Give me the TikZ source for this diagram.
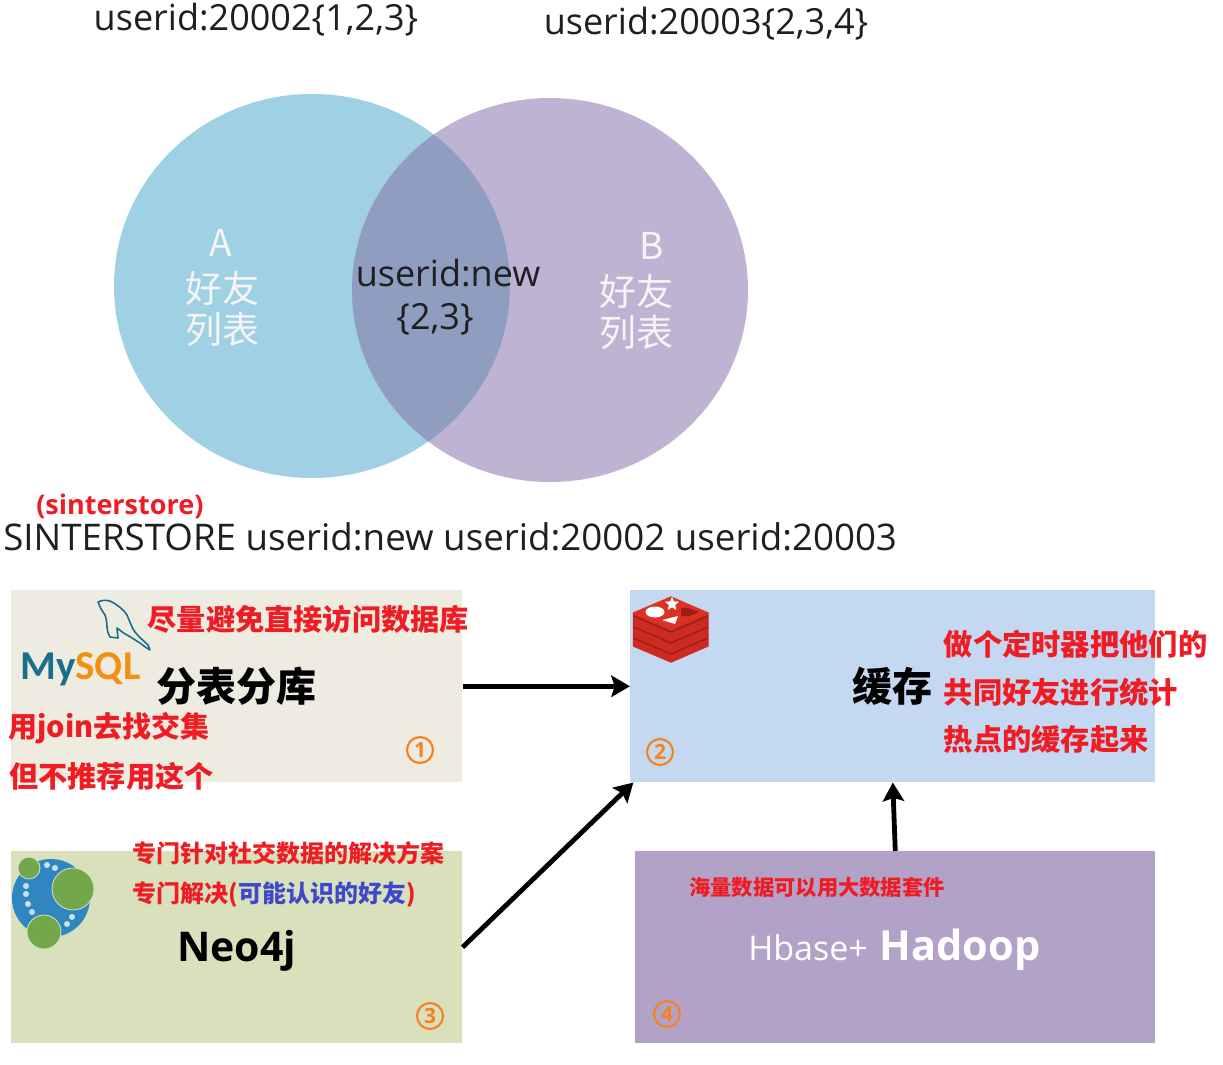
\documentclass[tikz,border=0pt]{standalone}
\usepackage{fontspec}
\setmainfont{Open Sans}
\newfontfamily\cjk{Noto Sans CJK SC}
\newfontfamily\logofont{Carlito}
\usetikzlibrary{arrows.meta,shapes.geometric}
\definecolor{redt}{HTML}{F01C24}
\definecolor{bluet}{HTML}{3F48CC}
\definecolor{orangen}{HTML}{F58220}
\definecolor{circA}{HTML}{A0D0E3}
\definecolor{circB}{HTML}{BFB3D3}
\definecolor{circAB}{HTML}{8F9DC0}
\definecolor{sqlteal}{HTML}{1B6E8C}
\definecolor{sqlorange}{HTML}{F29111}
\definecolor{neoblue}{HTML}{2F86C1}
\definecolor{neogreen}{HTML}{74A64C}
\definecolor{redisTop}{HTML}{DC3226}
\definecolor{redisSide}{HTML}{CB2B20}
\definecolor{redisGap}{HTML}{9E1C12}
\newcommand{\px}[1]{\fontsize{\fpeval{#1*0.75}pt}{\fpeval{#1*0.9}pt}\selectfont}
\tikzset{
  x=0.75pt,y=-0.75pt,
  panel/.style={rectangle,inner sep=0pt,anchor=north west},
  lab/.style={inner sep=0pt,anchor=west},
  redlab/.style={lab,text=redt,font=\cjk\bfseries},
  venntext/.style={inner sep=0pt,text=white!96!black,font=\cjk\px{37}},
  num/.style={circle,draw=orangen,line width=1.6pt,minimum size=19.5pt,inner sep=0pt,text=orangen,font=\bfseries\px{21}},
  conn/.style={line width=3.6pt,black,-{Stealth[length=14pt,width=16pt,inset=2.5pt]}},
  dot/.style={fill=white!75!neoblue,draw=none},
  ngreen/.style={fill=neogreen,draw=white!70!neogreen,line width=0.6pt},
}
\begin{document}
\begin{tikzpicture}
\useasboundingbox (0,0) rectangle (1223,1064);
\fill[white] (0,0) rectangle (1223,1064);
% Venn
\fill[circA] (312,286) ellipse [x radius=198,y radius=192];
\fill[circB] (550,290) ellipse [x radius=198,y radius=192];
\begin{scope}
\clip (312,286) ellipse [x radius=198,y radius=192];
\fill[circAB] (550,290) ellipse [x radius=198,y radius=192];
\end{scope}
\node[lab,anchor=center,text=black!88] (t1) at (256,20) {\px{36}userid:20002\{1,2,3\}};
\node[lab,anchor=center,text=black!88] (t2) at (706,24) {\px{36}userid:20003\{2,3,4\}};
\node[venntext] (a1) at (221,243) {A};
\node[venntext] (a2) at (222,288) {好友};
\node[venntext] (a3) at (222,330) {列表};
\node[venntext] (b1) at (652,246) {B};
\node[venntext] (b2) at (636,291) {好友};
\node[venntext] (b3) at (636,333) {列表};
\node[lab,anchor=center,text=black!88] (n1) at (448,273) {\px{36}userid:new};
\node[lab,anchor=center,text=black!88] (n2) at (435,319) {\px{36}\{2,3\}};
\node[redlab,font=\bfseries\px{27}] (s1) at (36,506) {(sinterstore)};
\node[lab,text=black!88] (s2) at (3,537) {\px{36.7}SINTERSTORE userid:new userid:20002 userid:20003};
% Panels
\node[panel,minimum width=338.25pt,minimum height=144pt,fill={rgb,255:red,238;green,235;blue,225}] (box1) at (11,590) {};
\node[panel,minimum width=393.75pt,minimum height=144pt,fill={rgb,255:red,196;green,217;blue,241}] (box2) at (630,590) {};
\node[panel,minimum width=338.25pt,minimum height=144pt,fill={rgb,255:red,216;green,225;blue,188}] (box3) at (11,851) {};
\node[panel,minimum width=390pt,minimum height=144pt,fill={rgb,255:red,178;green,162;blue,199}] (box4) at (635,851) {};
% Connectors
\draw[conn] (box1.east) -- (box2.west);
\draw[conn] (box3.east) -- ([xshift=2.5pt]box2.south west);
\draw[conn] (box4.north) -- (box2.south);
% MySQL
\draw[sqlteal,line width=1.2pt,line join=round,fill=none]
  (98,602) .. controls (102,600) and (106,600) .. (110,601)
  .. controls (118,605) and (124,610) .. (127,615)
  .. controls (130,622) and (132,628) .. (135,632)
  .. controls (140,638) and (144,641) .. (148,645) -- (150,650)
  .. controls (146,648) and (143,645) .. (140,643)
  .. controls (135,640) and (131,637) .. (127,635)
  .. controls (123,633) and (120,630) .. (117,628) -- (118,638) -- (110,637)
  .. controls (108,633) and (107,630) .. (107,627)
  .. controls (107,622) and (106,618) .. (105,615)
  .. controls (102,611) and (100,607) .. (98,602) -- cycle;
\node[inner sep=0pt,anchor=base west] (mysql) at (20,679) {\logofont\bfseries\px{41}\textcolor{sqlteal}{My}\textcolor{sqlorange}{SQL}};
\node[redlab,font=\cjk\bfseries\px{29.2}] (l1) at (147.5,619) {尽量避免直接访问数据库};
\node[lab,font=\cjk\bfseries\px{40}] (l2) at (156,686) {分表分库};
\node[redlab,font=\cjk\bfseries\px{29}] (l3) at (8,728) {用join去找交集};
\node[redlab,font=\cjk\bfseries\px{29.2}] (l4) at (9,776) {但不推荐用这个};
\node[num] (c1) at (420,750) {1};
% Redis
\foreach \dy in {22,11,0}{
  \filldraw[redisSide,line width=1pt,line join=round] (633.5,{613+\dy}) -- (671,{629+\dy}) -- (708,{613+\dy}) -- (708,{624+\dy}) -- (671,{640+\dy}) -- (633.5,{624+\dy}) -- cycle;
  \draw[redisGap,line width=1pt] (633.5,{616+\dy}) -- (671,{632+\dy}) -- (708,{616+\dy});
  \filldraw[redisTop,line width=1pt,line join=round] (633.5,{613+\dy}) -- (671,{597+\dy}) -- (708,{613+\dy}) -- (671,{629+\dy}) -- cycle;
}
\fill[white] (655,612) ellipse [x radius=9.5,y radius=5.5];
\node[star,star points=5,star point ratio=2.2,fill=white,inner sep=0pt,minimum size=11pt] (rstar) at (672,604) {};
\fill[white] (662,620) -- (678,616) -- (675,624) -- cycle;
\fill[redisGap] (681,608) -- (688,608) -- (699,612) -- (690,616) -- (681,616) -- cycle;
\node[lab,font=\cjk\bfseries\px{40}] (m1) at (852,686) {缓存};
\node[redlab,font=\cjk\bfseries\px{29.3}] (m2) at (943.5,644) {做个定时器把他们的};
\node[redlab,font=\cjk\bfseries\px{29.3}] (m3) at (943.5,692) {共同好友进行统计};
\node[redlab,font=\cjk\bfseries\px{29.3}] (m4) at (943.5,740) {热点的缓存起来};
\node[num] (c2) at (660,752) {2};
% Neo4j
\fill[neoblue] (51,898) circle (39);
\node[circle,ngreen,minimum size=16.5pt,inner sep=0pt] (g1) at (29,868) {};
\node[circle,ngreen,minimum size=31.5pt,inner sep=0pt] (g2) at (73,889) {};
\node[circle,ngreen,minimum size=25.5pt,inner sep=0pt] (g3) at (44,932) {};
\foreach \a/\b in {47/865,55/868,26/886,26/894,28/904,32/912,72/917,67/924}
  \fill[dot] (\a,\b) circle (3);
\node[redlab,font=\cjk\bfseries\px{24}] (n3) at (132.5,853) {专门针对社交数据的解决方案};
\node[redlab,font=\cjk\bfseries\px{24}] (n4) at (132.5,895) {专门解决(\textcolor{bluet}{可能认识的好友})};
\node[lab,font=\bfseries\px{41}] (neo) at (177,951) {Neo4j};
\node[num] (c3) at (430,1016) {3};
% Hadoop
\node[redlab,font=\cjk\bfseries\px{21.3}] (h1) at (689,887) {海量数据可以用大数据套件};
\node[lab,text=white] (h2) at (748,950) {\px{34}Hbase+\hspace{9pt}\bfseries\px{41.5}Hadoop};
\node[num] (c4) at (667,1014) {4};
\end{tikzpicture}
\end{document}
